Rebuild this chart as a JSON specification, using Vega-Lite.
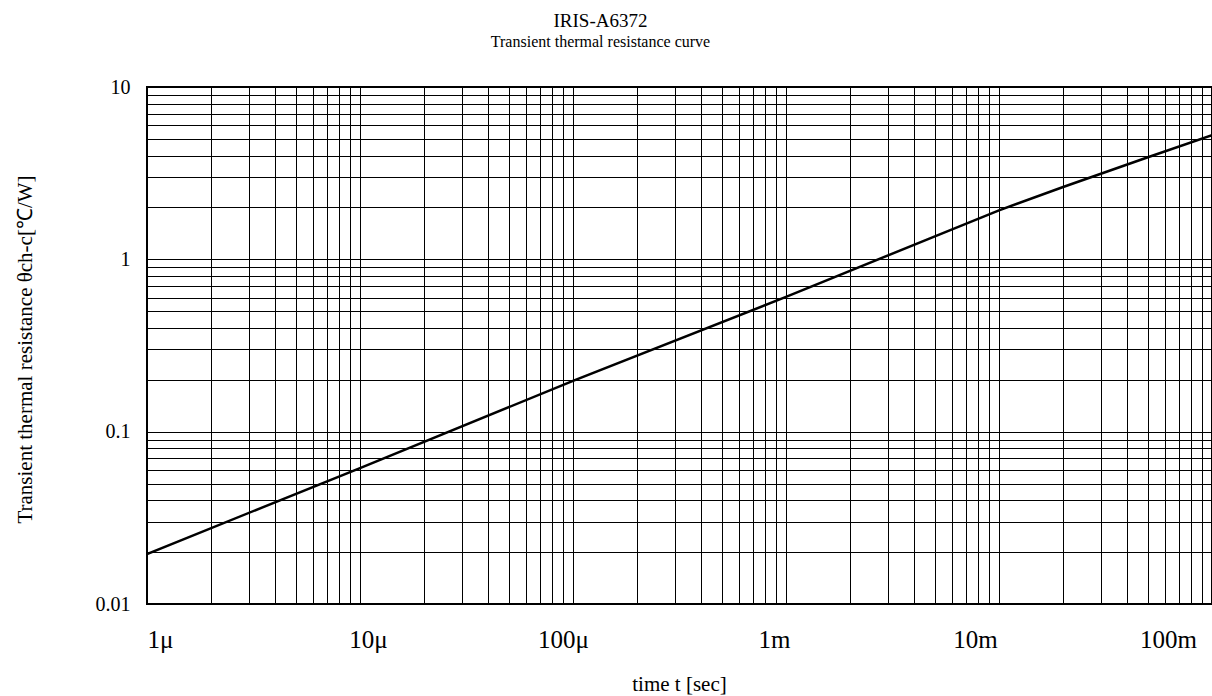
{
  "$schema": "https://vega.github.io/schema/vega-lite/v6.json",
  "width": 1065,
  "height": 517,
  "autosize": {"type": "none"},
  "padding": {"left": 147, "top": 87, "right": 0, "bottom": 92},
  "background": "white",
  "title": {
    "text": "IRIS-A6372",
    "subtitle": "Transient thermal resistance curve",
    "anchor": "middle",
    "frame": "group",
    "dx": -79,
    "offset": 27,
    "font": "Liberation Serif",
    "fontSize": 19,
    "fontWeight": "normal",
    "color": "#000",
    "subtitleFont": "Liberation Serif",
    "subtitleFontSize": 16,
    "subtitleColor": "#000",
    "subtitlePadding": 3
  },
  "config": {
    "view": {"stroke": "#000", "strokeWidth": 2},
    "axis": {
      "domain": false,
      "ticks": false,
      "grid": true,
      "gridColor": "#000",
      "gridOpacity": 1,
      "gridWidth": 1,
      "labelFont": "Liberation Serif",
      "labelColor": "#000",
      "titleFont": "Liberation Serif",
      "titleColor": "#000",
      "titleFontWeight": "normal"
    }
  },
  "data": {
    "values": [
      {"t": 1e-6, "r": 0.0195},
      {"t": 1e-5, "r": 0.0615},
      {"t": 1e-4, "r": 0.197},
      {"t": 1e-3, "r": 0.605},
      {"t": 5e-3, "r": 1.36},
      {"t": 1e-2, "r": 1.925},
      {"t": 2e-2, "r": 2.63},
      {"t": 5e-2, "r": 3.91},
      {"t": 1e-1, "r": 5.25}
    ]
  },
  "mark": {"type": "line", "color": "#000", "strokeWidth": 2.5, "clip": true},
  "encoding": {
    "x": {
      "field": "t",
      "type": "quantitative",
      "scale": {"type": "log", "domain": [1e-6, 0.1], "nice": false, "zero": false},
      "axis": {
        "values": [1e-6, 2e-6, 3e-6, 4e-6, 5e-6, 6e-6, 7e-6, 8e-6, 9e-6,
                   1e-5, 2e-5, 3e-5, 4e-5, 5e-5, 6e-5, 7e-5, 8e-5, 9e-5,
                   1e-4, 2e-4, 3e-4, 4e-4, 5e-4, 6e-4, 7e-4, 8e-4, 9e-4,
                   1e-3, 2e-3, 3e-3, 4e-3, 5e-3, 6e-3, 7e-3, 8e-3, 9e-3,
                   1e-2, 2e-2, 3e-2, 4e-2, 5e-2, 6e-2, 7e-2, 8e-2, 9e-2, 1e-1],
        "labelExpr": "datum.value == 1e-6 ? '1μ' : datum.value == 1e-5 ? '10μ' : datum.value == 1e-4 ? '100μ' : datum.value == 1e-3 ? '1m' : datum.value == 1e-2 ? '10m' : datum.value == 1e-1 ? '100m' : ''",
        "labelFontSize": 25,
        "labelPadding": 23,
        "labelAlign": "center",
        "labelBound": false,
        "labelFlush": false,
        "labelOverlap": false,
        "labelOffset": {
          "condition": [
            {"test": "datum.value < 2e-6", "value": 13},
            {"test": "datum.value < 2e-5", "value": 8},
            {"test": "datum.value < 2e-4", "value": -10},
            {"test": "datum.value < 2e-3", "value": -12},
            {"test": "datum.value < 2e-2", "value": -24}
          ],
          "value": -44
        },
        "title": "time  t [sec]",
        "titleFontSize": 21,
        "titleBaseline": "alphabetic",
        "titleY": 86,
        "titleX": 532
      }
    },
    "y": {
      "field": "r",
      "type": "quantitative",
      "scale": {"type": "log", "domain": [0.01, 10], "nice": false, "zero": false},
      "axis": {
        "values": [0.01, 0.02, 0.03, 0.04, 0.05, 0.06, 0.07, 0.08, 0.09,
                   0.1, 0.2, 0.3, 0.4, 0.5, 0.6, 0.7, 0.8, 0.9,
                   1, 2, 3, 4, 5, 6, 7, 8, 9, 10],
        "labelExpr": "datum.value == 0.01 ? '0.01' : datum.value == 0.1 ? '0.1' : datum.value == 1 ? '1' : datum.value == 10 ? '10' : ''",
        "labelFontSize": 20,
        "labelPadding": 17,
        "labelBaseline": "middle",
        "labelOverlap": false,
        "labelBound": false,
        "labelFlush": false,
        "title": "Transient thermal resistance θch-c[℃/W]",
        "titleFontSize": 21,
        "titleAngle": -90,
        "titleBaseline": "middle",
        "titleAlign": "center",
        "titleX": -122,
        "titleY": 262
      }
    }
  }
}
